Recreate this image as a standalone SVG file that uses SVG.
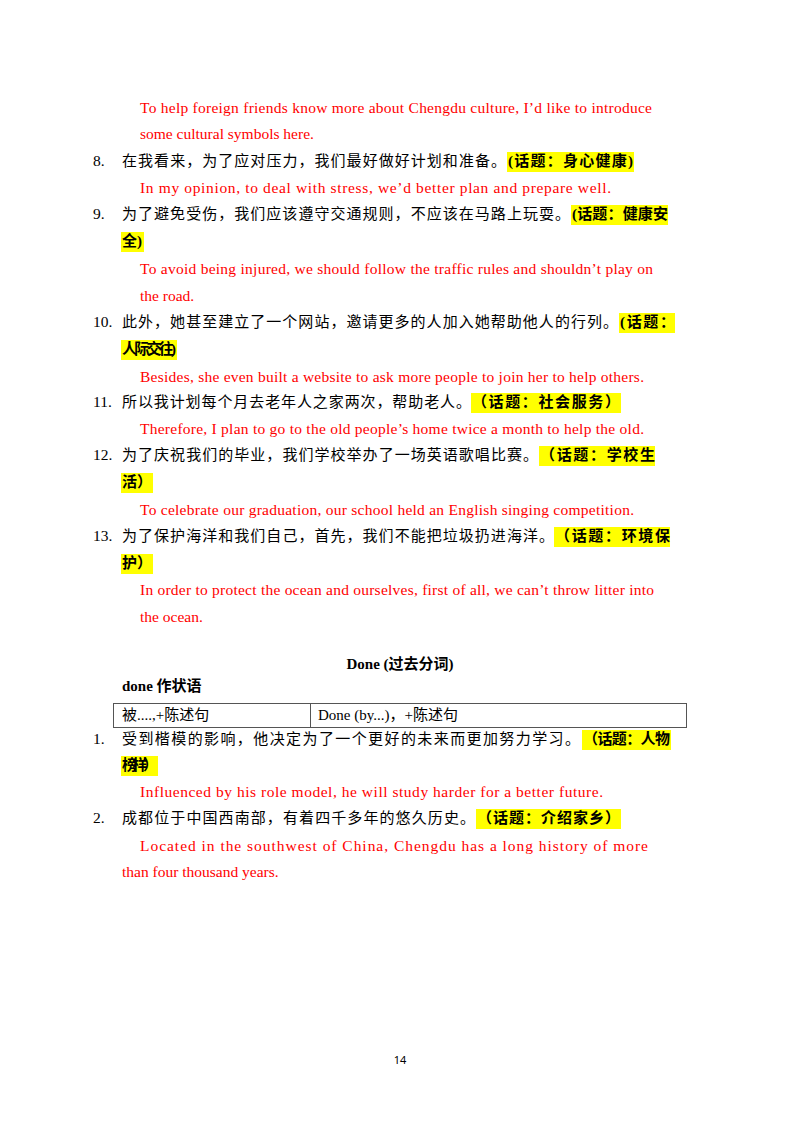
<svg xmlns="http://www.w3.org/2000/svg" width="800" height="1132" viewBox="0 0 800 1132">
<style>
.en{font-family:"Liberation Serif",serif;font-size:15.5px;fill:#ff0000}
.zh{font-family:"Liberation Serif","Noto Sans CJK SC",serif;font-size:15px;fill:#000}
.num{font-family:"Liberation Serif",serif;font-size:15.5px;fill:#000}
.b{font-weight:bold}
.hl{fill:#ffff00}
</style>
<rect width="800" height="1132" fill="#fff"/>
<g id="highlights">
<rect class="hl" x="507" y="152" width="127" height="20"/>
<rect class="hl" x="571" y="205" width="97" height="20"/>
<rect class="hl" x="121" y="232" width="23" height="20"/>
<rect class="hl" x="619" y="313" width="56" height="20"/>
<rect class="hl" x="121" y="340" width="56" height="20"/>
<rect class="hl" x="471" y="393" width="150" height="20"/>
<rect class="hl" x="539" y="446" width="116" height="20"/>
<rect class="hl" x="121" y="473" width="32" height="20"/>
<rect class="hl" x="554" y="527" width="116" height="20"/>
<rect class="hl" x="121" y="554" width="32" height="20"/>
<rect class="hl" x="582" y="730" width="89" height="20"/>
<rect class="hl" x="121" y="756" width="37" height="20"/>
<rect class="hl" x="476" y="809" width="145" height="20"/>
</g>
<g id="body">
<text class="en" x="140" y="113" textLength="512">To help foreign friends know more about Chengdu culture, I’d like to introduce</text>
<text class="en" x="140" y="139">some cultural symbols here.</text>
<text class="num" x="93" y="166">8.</text>
<text class="zh" x="122" y="166" textLength="384">在我看来，为了应对压力，我们最好做好计划和准备。</text>
<text class="zh b" x="508" y="166" textLength="125">(话题：身心健康)</text>
<text class="en" x="140" y="193" textLength="471">In my opinion, to deal with stress, we’d better plan and prepare well.</text>
<text class="num" x="93" y="219">9.</text>
<text class="zh" x="122" y="219" textLength="448">为了避免受伤，我们应该遵守交通规则，不应该在马路上玩耍。</text>
<text class="zh b" x="572" y="219" textLength="96">(话题：健康安</text>
<text class="zh b" x="122" y="246">全)</text>
<text class="en" x="140" y="274" textLength="513">To avoid being injured, we should follow the traffic rules and shouldn’t play on</text>
<text class="en" x="140" y="301">the road.</text>
<text class="num" x="93" y="327">10.</text>
<text class="zh" x="122" y="327" textLength="496">此外，她甚至建立了一个网站，邀请更多的人加入她帮助他人的行列。</text>
<text class="zh b" x="620" y="327" textLength="55">(话题：</text>
<text class="zh b" x="122" y="354" textLength="54">人际交往)</text>
<text class="en" x="140" y="382" textLength="504">Besides, she even built a website to ask more people to join her to help others.</text>
<text class="num" x="93" y="407">11.</text>
<text class="zh" x="122" y="407" textLength="349">所以我计划每个月去老年人之家两次，帮助老人。</text>
<text class="zh b" x="472" y="407" textLength="148">（话题：社会服务）</text>
<text class="en" x="140" y="434" textLength="504">Therefore, I plan to go to the old people’s home twice a month to help the old.</text>
<text class="num" x="93" y="460">12.</text>
<text class="zh" x="122" y="460" textLength="416">为了庆祝我们的毕业，我们学校举办了一场英语歌唱比赛。</text>
<text class="zh b" x="540" y="460" textLength="115">（话题：学校生</text>
<text class="zh b" x="122" y="487" textLength="30">活）</text>
<text class="en" x="140" y="515" textLength="494">To celebrate our graduation, our school held an English singing competition.</text>
<text class="num" x="93" y="541">13.</text>
<text class="zh" x="122" y="541" textLength="432">为了保护海洋和我们自己，首先，我们不能把垃圾扔进海洋。</text>
<text class="zh b" x="555" y="541" textLength="115">（话题：环境保</text>
<text class="zh b" x="122" y="568" textLength="30">护）</text>
<text class="en" x="140" y="595" textLength="514">In order to protect the ocean and ourselves, first of all, we can’t throw litter into</text>
<text class="en" x="140" y="622">the ocean.</text>
<text class="zh b" x="400" y="669" text-anchor="middle">Done (过去分词)</text>
<text class="zh b" x="122" y="691">done 作状语</text>
</g>
<g id="table" fill="none" stroke="#555" stroke-width="1">
<rect x="113.5" y="703.5" width="573" height="24"/>
<line x1="310.5" y1="703.5" x2="310.5" y2="727.5"/>
</g>
<g id="table-text">
<text class="zh" x="122" y="720">被....,+陈述句</text>
<text class="zh" x="318" y="720">Done (by...)，+陈述句</text>
</g>
<g id="body2">
<text class="num" x="93" y="744">1.</text>
<text class="zh" x="122" y="744" textLength="458">受到楷模的影响，他决定为了一个更好的未来而更加努力学习。</text>
<text class="zh b" x="583" y="744" textLength="87">（话题：人物</text>
<text class="zh b" x="122" y="770" textLength="36">榜样）</text>
<text class="en" x="140" y="797" textLength="463">Influenced by his  role  model, he  will  study harder  for a better future.</text>
<text class="num" x="93" y="823">2.</text>
<text class="zh" x="122" y="823" textLength="353">成都位于中国西南部，有着四千多年的悠久历史。</text>
<text class="zh b" x="477" y="823" textLength="143">（话题：介绍家乡）</text>
<text class="en" x="140" y="851" textLength="508">Located  in  the  southwest  of  China,  Chengdu  has  a  long  history  of  more</text>
<text class="en" x="122" y="877">than  four   thousand  years.</text>
<text x="400" y="1064" text-anchor="middle" font-family="Noto Sans,sans-serif" font-size="11">14</text>
</g>
</svg>
